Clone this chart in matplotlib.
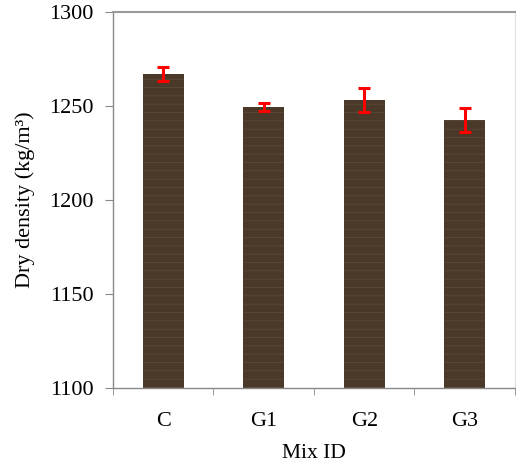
import matplotlib
matplotlib.use("Agg")
import matplotlib.pyplot as plt
import numpy as np

categories = ["C", "G1", "G2", "G3"]
values = [1267, 1249.5, 1253, 1242.5]
errors = [3.5, 2.0, 6.4, 6.4]
yticks = [1100, 1150, 1200, 1250, 1300]

plt.rcParams['font.family'] = ['Liberation Serif', 'DejaVu Serif']
plt.rcParams['hatch.linewidth'] = 0.5

fig = plt.figure(figsize=(5.16, 4.66), dpi=100)
ax = fig.add_axes([0.219, 0.1674, 0.779, 0.807])

x = np.arange(len(categories))
ax.bar(x, values, width=0.41, color='#4a3828', edgecolor='#5f4d3a', hatch='--', linewidth=0, zorder=2)
ax.errorbar(x, values, yerr=errors, fmt='none', ecolor='#ff0000', elinewidth=2.2,
            capsize=4.5, capthick=2.2, zorder=3)

fs = 16
ax.set_ylim(1100, 1300)
ax.set_xlim(-0.5, 3.5)
ax.set_yticks(yticks)
ax.set_yticklabels([str(t) for t in yticks], fontsize=fs)
ax.set_xticks(x)
ax.set_xticklabels(categories, fontsize=fs)
ax.tick_params(axis='x', which='major', length=0, pad=17)
ax.set_xticks(np.arange(-0.5, 3.6, 1.0), minor=True)
ax.tick_params(axis='x', which='minor', length=5, color='#888888', direction='out')
ax.tick_params(axis='y', which='major', length=6, color='#888888', direction='out', pad=8)

for s in ['left', 'bottom']:
    ax.spines[s].set_color('#888888')
    ax.spines[s].set_linewidth(1.0)
ax.spines['top'].set_color('#999999')
ax.spines['top'].set_linewidth(1.5)
ax.spines['right'].set_color('#e0e0e0')
ax.spines['right'].set_linewidth(1.0)

ax.set_xlabel("Mix ID", fontsize=15.5, labelpad=9.5)
ax.set_ylabel("Dry density (kg/m³)", fontsize=fs, labelpad=10)

fig.savefig("out.png", dpi=100)
